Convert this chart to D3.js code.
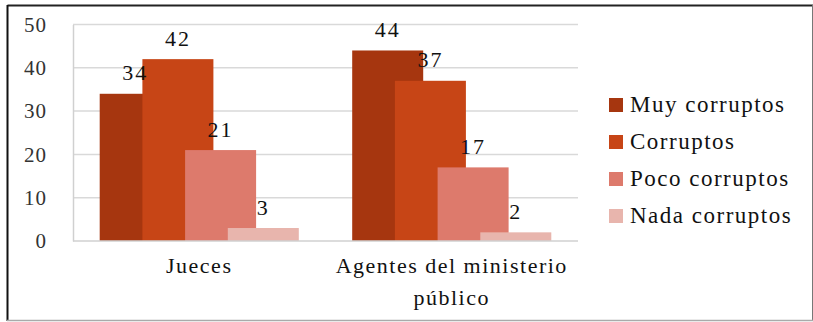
<!DOCTYPE html>
<html><head><meta charset="utf-8">
<script src="https://cdnjs.cloudflare.com/ajax/libs/d3/7.8.5/d3.min.js"></script>
</head><body><svg id="c" width="813" height="322"></svg>
<script>
document.body.style.margin = "0";
document.getElementById("c").style.display = "block";
const categories = ["Jueces", "Agentes del ministerio público"];
const categoryLines = [["Jueces"], ["Agentes del ministerio", "público"]];
const seriesNames = ["Muy corruptos", "Corruptos", "Poco corruptos", "Nada corruptos"];
const muyCorruptos = [34, 44];
const corruptos = [42, 37];
const pocoCorruptos = [21, 17];
const nadaCorruptos = [3, 2];
const seriesValues = [muyCorruptos, corruptos, pocoCorruptos, nadaCorruptos];
const colors = ["#A6360F", "#C74516", "#DD7A6C", "#E8B5AD"];
const yTicks = [0, 10, 20, 30, 40, 50];
const FONT = '"Times New Roman", "Liberation Serif", Georgia';

const svg = d3.select("#c");
// frame
svg.append("line").attr("x1",7.5).attr("x2",813).attr("y1",5.5).attr("y2",5.5).attr("stroke","#222").attr("stroke-width",2);
svg.append("line").attr("x1",7.5).attr("x2",7.5).attr("y1",5).attr("y2",321).attr("stroke","#111").attr("stroke-width",2);
svg.append("line").attr("x1",812.5).attr("x2",812.5).attr("y1",5).attr("y2",321).attr("stroke","#777").attr("stroke-width",1);
svg.append("line").attr("x1",7).attr("x2",813).attr("y1",320.5).attr("y2",320.5).attr("stroke","#aaa").attr("stroke-width",1.5);

const plotL = 73, plotR = 578, plotT = 24.5, plotB = 241;
const y = d3.scaleLinear().domain([0, 50]).range([plotB, plotT]);
const x0 = d3.scaleBand().domain(categories).range([plotL, plotR]);
const barW = 71, step = 42.7;
const groupW = step * 3 + barW;

// gridlines
svg.append("g").selectAll("line").data(yTicks.filter(d => d > 0)).join("line")
  .attr("x1", plotL).attr("x2", plotR).attr("y1", d => y(d)).attr("y2", d => y(d))
  .attr("stroke", "#d9d9d9").attr("stroke-width", 1.5);

// y axis
const ya = svg.append("g").attr("transform", `translate(${plotL},0)`)
  .call(d3.axisLeft(y).tickValues(yTicks).tickSize(0).tickPadding(26));
ya.attr("font-family", null).attr("font-size", null);
ya.select(".domain").attr("stroke", "#d0d0d0").attr("stroke-width", 1.5);
ya.selectAll("text").style("font-family", FONT).style("font-size", "21px").attr("fill", "#333").style("letter-spacing", "1px");

// bars
seriesValues.forEach((vals, si) => {
  const g = svg.append("g");
  g.selectAll("rect").data(vals).join("rect")
    .attr("x", (d, i) => x0(categories[i]) + x0.bandwidth() / 2 - groupW / 2 + si * step)
    .attr("y", d => y(d)).attr("width", barW).attr("height", d => plotB - y(d))
    .attr("fill", colors[si]);
});
// labels (drawn after all bars)
seriesValues.forEach((vals, si) => {
  svg.append("g").selectAll("text").data(vals).join("text")
    .attr("x", (d, i) => x0(categories[i]) + x0.bandwidth() / 2 - groupW / 2 + si * step + barW / 2)
    .attr("y", d => y(d) - 13.5).attr("text-anchor", "middle")
    .style("font-family", FONT).attr("fill", "#111")
    .style("font-size", "22px").style("letter-spacing", "2px").text(d => d);
});

// x axis
svg.append("line").attr("x1", plotL).attr("x2", plotR).attr("y1", plotB).attr("y2", plotB)
  .attr("stroke", "#d0d0d0").attr("stroke-width", 1.5);
categories.forEach((c, i) => {
  categoryLines[i].forEach((ln, li) => {
    svg.append("text").attr("text-anchor", "middle").style("font-family", FONT).attr("fill", "#111")
      .style("font-size", "22px").style("letter-spacing", "1.5px")
      .attr("x", x0(c) + x0.bandwidth() / 2).attr("y", 273 + li * 31.5).text(ln);
  });
});

// legend
const lg = svg.append("g");
seriesNames.forEach((n, i) => {
  const cy = 105 + i * 37;
  lg.append("rect").attr("x", 609).attr("y", cy - 7).attr("width", 14).attr("height", 14).attr("fill", colors[i]);
  lg.append("text").attr("x", 630).attr("y", cy + 7).style("font-family", FONT).attr("fill", "#111")
    .style("font-size", "23px").style("letter-spacing", "1.5px").text(n);
});
</script></body></html>
